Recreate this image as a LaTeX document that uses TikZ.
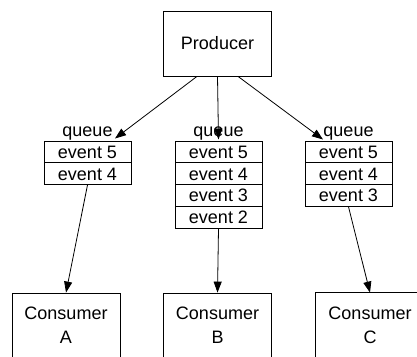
\documentclass[tikz,border=0pt]{standalone}
\usepackage{fontspec}
\setmainfont{Liberation Sans}
\usetikzlibrary{arrows.meta,positioning,calc}

\tikzset{
  every node/.style={font=\fontsize{18}{24}\selectfont},
  box/.style={draw, line width=0.8pt, rectangle, minimum width=108pt, minimum height=65pt, inner sep=0pt, align=center},
  cell/.style={draw, line width=0.8pt, rectangle, minimum width=87pt, minimum height=21.8pt, inner sep=0pt, text height=12.9pt, text depth=0pt},
  qlabel/.style={inner sep=0pt, anchor=base},
  link/.style={line width=0.8pt, -{Triangle[length=11pt,width=8pt]}},
}

\begin{document}
\begin{tikzpicture}[x=1pt, y=-1pt]
  \useasboundingbox (0,0) rectangle (417,356);

  % producer
  \node[box] (P) at (217.5,43.5) {Producer};

  % queue A
  \node[qlabel] (qa) at (87.5,136) {queue};
  \node[cell] (a1) at (87.5,151.9) {event 5};
  \node[cell] (a2) at (87.5,173.7) {event 4};

  % queue B
  \node[qlabel] (qb) at (218.5,136) {queue};
  \node[cell] (b1) at (218.5,151.9) {event 5};
  \node[cell] (b2) at (218.5,173.7) {event 4};
  \node[cell] (b3) at (218.5,195.5) {event 3};
  \node[cell] (b4) at (218.5,217.3) {event 2};

  % queue C
  \node[qlabel] (qc) at (348.5,136) {queue};
  \node[cell] (c1) at (348.5,151.9) {event 5};
  \node[cell] (c2) at (348.5,173.7) {event 4};
  \node[cell] (c3) at (348.5,195.5) {event 3};

  % consumers
  \node[box] (CA) at (66,325.5) {Consumer\\A};
  \node[box] (CB) at (217.5,325.5) {Consumer\\B};
  \node[box, draw=none] (CC) at (370,325.5) {Consumer\\C};
  \draw[line width=0.8pt] (CC.south west) |- ([xshift=-7.5pt]CC.north east) -- ([xshift=-7.5pt]CC.south east);

  % arrow ends at the queue labels
  \coordinate (inA) at (115,138.5);
  \coordinate (inB) at (218.5,139.5);
  \coordinate (inC) at (323,139.5);

  % producer to queues
  \draw[link] ([xshift=-20.5pt]P.south) -- (inA);
  \draw[link] (P.south) -- (inB);
  \draw[link] ([xshift=20.5pt]P.south) -- (inC);

  % queues to consumers
  \draw[link] (a2.south) -- (CA.north);
  \draw[link] (b4.south) -- (CB.north);
  \draw[link] (c3.south) -- (CC.north);
\end{tikzpicture}
\end{document}
